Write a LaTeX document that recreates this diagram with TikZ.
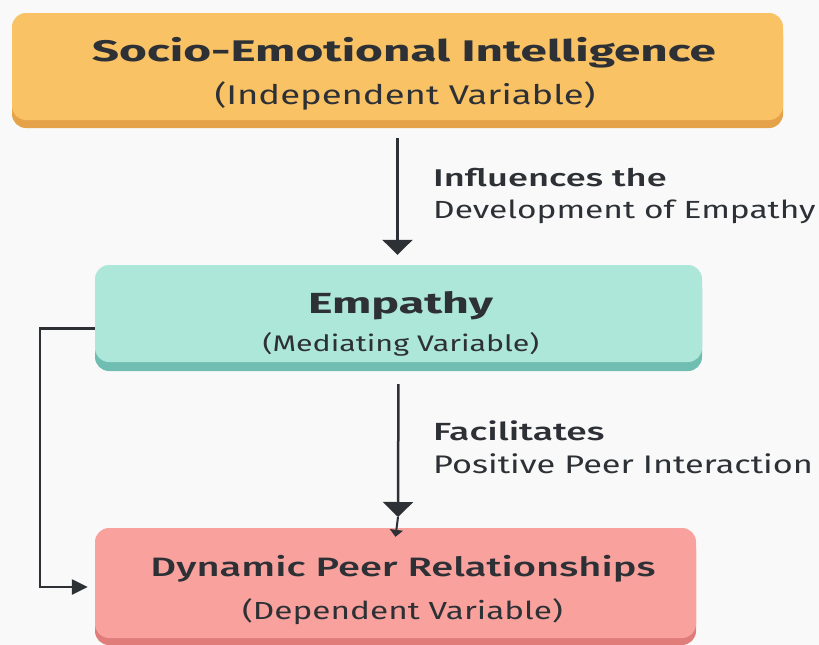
\documentclass[tikz,border=0pt]{standalone}
\usepackage{fontspec}
\setmainfont{Fira Sans}
\newfontfamily\namefont[FakeStretch=1.6]{Fira Sans}
\newfontfamily\medfont[FakeStretch=1.5]{Fira Sans Medium}
\newfontfamily\rolefont[FakeStretch=1.35]{Fira Sans}
\usetikzlibrary{positioning,arrows.meta,shadows}
\definecolor{pagebg}{HTML}{F9F9F9}
\definecolor{inkgray}{HTML}{2D3136}
\definecolor{sunfill}{HTML}{F9C265}
\definecolor{sunedge}{HTML}{E6A248}
\definecolor{mintfill}{HTML}{ADE7D9}
\definecolor{mintedge}{HTML}{70BDB1}
\definecolor{rosefill}{HTML}{F9A19D}
\definecolor{roseedge}{HTML}{E07D7A}

\tikzset{
  varbox/.style={rounded corners=14pt,inner sep=0pt},
  nametext/.style={text=inkgray,inner sep=0pt,anchor=base},
  roletext/.style={text=inkgray,inner sep=0pt,anchor=base},
  linktext/.style={text=inkgray,inner sep=0pt,anchor=base west},
  flow/.style={->,line width=2.5pt,draw=inkgray}
}

\begin{document}
\begin{tikzpicture}[x=1pt,y=-1pt,>={Triangle[length=15pt,width=30pt]}]
\fill[pagebg] (0,0) rectangle (819,645);
\useasboundingbox (0,0) rectangle (819,645);

% the three variables
\node[varbox,fill=sunfill,general shadow={fill=sunedge,shadow yshift=-8pt},minimum width=771pt,minimum height=107pt] (sei) at (397.5,66.5) {};
\node[nametext,font=\namefont\bfseries\fontsize{29.8}{36}\selectfont] (seiname) at (404,61) {Socio-Emotional Intelligence};
\node[roletext,font=\rolefont\fontsize{27}{32}\selectfont] (seirole) at (405,104) {(Independent Variable)};

\node[varbox,fill=mintfill,general shadow={fill=mintedge,shadow yshift=-9pt},minimum width=607pt,minimum height=97pt] (emp) at (398.5,313.5) {};
\node[nametext,font=\namefont\bfseries\fontsize{29.1}{36}\selectfont] (empname) at (400.5,313) {Empathy};
\node[roletext,font=\rolefont\fontsize{22.5}{28}\selectfont] (emprole) at (401,351) {(Mediating Variable)};

\node[varbox,fill=rosefill,general shadow={fill=roseedge,shadow yshift=-7pt},minimum width=601pt,minimum height=110pt] (dpr) at (395.5,583) {};
\node[nametext,font=\medfont\fontsize{26.6}{32}\selectfont] (dprname) at (403,576) {Dynamic Peer Relationships};
\node[roletext,font=\rolefont\fontsize{24.7}{30}\selectfont] (dprrole) at (402.5,619) {(Dependent Variable)};

% links
\draw[flow,shorten <=18pt,shorten >=10pt] (sei.south) -- (sei.south |- emp.north);
\node[linktext,font=\medfont\fontsize{24.2}{30}\selectfont] (influence) at (433,186) {Influences the};
\node[linktext,font=\rolefont\fontsize{24.8}{30}\selectfont] (influencenote) at (433,218) {Development of Empathy};

\coordinate (relay) at (398,517);
\draw[flow,shorten <=22pt] (emp.south) -- (relay);
\draw[-{Triangle[length=7pt,width=13pt]},line width=2pt,draw=inkgray] (relay) -- ([yshift=-9pt]dpr.north);
\node[linktext,font=\medfont\fontsize{24.8}{30}\selectfont] (facilitate) at (433,440) {Facilitates};
\node[linktext,font=\rolefont\fontsize{25.4}{30}\selectfont] (facilitatenote) at (433,473) {Positive Peer Interaction};

\draw[flow,>={Triangle[length=16pt,width=15pt]},shorten >=7pt] ([yshift=-15pt]emp.west) -- ++(-55,0) |- ([yshift=-4pt]dpr.west);
\end{tikzpicture}
\end{document}
